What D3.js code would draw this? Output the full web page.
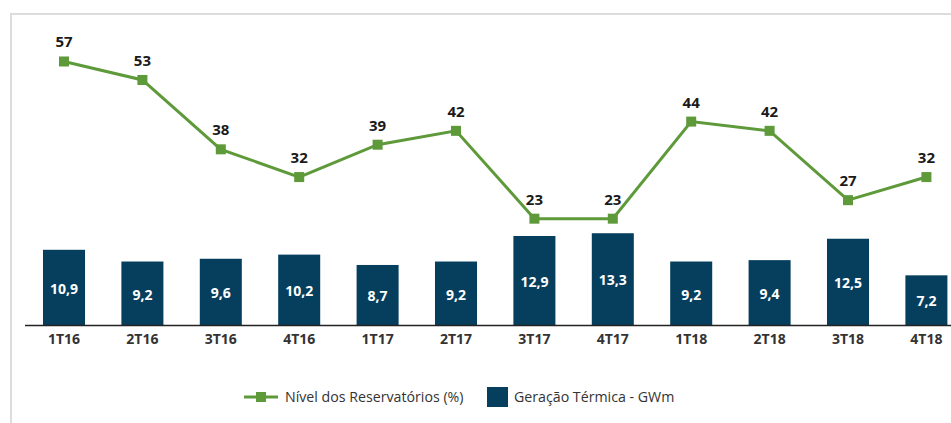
<!DOCTYPE html>
<html>
<head>
<meta charset="utf-8">
<script src="https://cdn.jsdelivr.net/npm/d3@7"></script>
<style>
  body { margin: 0; background: #fff; }
  #chart { width: 951px; height: 423px; }
  text { font-family: "Open Sans", "Noto Sans", sans-serif; }
</style>
</head>
<body>
<div id="chart"></div>
<script>
const quarters = ["1T16", "2T16", "3T16", "4T16", "1T17", "2T17", "3T17", "4T17", "1T18", "2T18", "3T18", "4T18"];
const reservoirLevel = [57, 53, 38, 32, 39, 42, 23, 23, 44, 42, 27, 32];
const thermalGen = [10.9, 9.2, 9.6, 10.2, 8.7, 9.2, 12.9, 13.3, 9.2, 9.4, 12.5, 7.2];
const legendLabels = ["Nível dos Reservatórios (%)", "Geração Térmica - GWm"];

const green = "#5e9a3a";
const navy = "#063f5e";

function createChart() {
    const width = 951, height = 423;
    const baseY = 325;

    const svg = d3.select("#chart")
        .append("svg")
        .attr("width", width)
        .attr("height", height);

    // light frame
    svg.append("path")
        .attr("d", `M11,${height} L11,14 L${width},14`)
        .attr("fill", "none")
        .attr("stroke", "#dcdcdc")
        .attr("stroke-width", 2);

    const x = d3.scaleBand()
        .domain(quarters)
        .range([24.8, 965.6])
        .paddingInner(0.464)
        .paddingOuter(0.232);

    const yBar = d3.scaleLinear()
        .domain([0, 47.1])
        .range([baseY, 0]);

    const yLine = d3.scaleLinear()
        .domain([0, 70.3])
        .range([baseY, 0]);

    // bars
    svg.append("g")
        .selectAll("rect")
        .data(thermalGen)
        .join("rect")
        .attr("x", (d, i) => x(quarters[i]))
        .attr("y", d => yBar(d))
        .attr("width", x.bandwidth())
        .attr("height", d => baseY - yBar(d))
        .attr("fill", navy);

    // bar labels
    svg.append("g")
        .selectAll("text")
        .data(thermalGen)
        .join("text")
        .attr("x", (d, i) => x(quarters[i]) + x.bandwidth() / 2)
        .attr("y", d => (yBar(d) + baseY) / 2 + 1)
        .attr("dy", "0.38em")
        .attr("text-anchor", "middle")
        .attr("fill", "#fff")
        .attr("font-size", 14)
        .attr("font-weight", "bold")
        .text(d => d3.format(".1f")(d).replace(".", ","));

    // x axis
    const axis = svg.append("g")
        .attr("transform", `translate(0,${baseY})`)
        .call(d3.axisBottom(x).tickSize(0).tickPadding(9));
    axis.select(".domain")
        .attr("d", `M25,0.5H${width}`)
        .attr("stroke", "#222")
        .attr("stroke-width", 1.5);
    axis.selectAll("text")
        .attr("font-family", "'Open Sans', sans-serif")
        .attr("font-size", 14)
        .attr("font-weight", "bold")
        .attr("fill", "#333");

    // reservoir line
    const line = d3.line()
        .x((d, i) => x(quarters[i]) + x.bandwidth() / 2)
        .y(d => yLine(d));

    svg.append("path")
        .datum(reservoirLevel)
        .attr("fill", "none")
        .attr("stroke", green)
        .attr("stroke-width", 3)
        .attr("d", line);

    svg.append("g")
        .selectAll("rect")
        .data(reservoirLevel)
        .join("rect")
        .attr("x", (d, i) => x(quarters[i]) + x.bandwidth() / 2 - 5)
        .attr("y", d => yLine(d) - 5)
        .attr("width", 10)
        .attr("height", 10)
        .attr("fill", green);

    svg.append("g")
        .selectAll("text")
        .data(reservoirLevel)
        .join("text")
        .attr("x", (d, i) => x(quarters[i]) + x.bandwidth() / 2)
        .attr("y", d => yLine(d) - 14)
        .attr("text-anchor", "middle")
        .attr("fill", "#1a1a1a")
        .attr("font-size", 15)
        .attr("font-weight", "bold")
        .text(d => d);

    // legend
    const lg = svg.append("g");
    lg.append("line")
        .attr("x1", 244).attr("x2", 278)
        .attr("y1", 397).attr("y2", 397)
        .attr("stroke", green)
        .attr("stroke-width", 3);
    lg.append("rect")
        .attr("x", 256).attr("y", 392)
        .attr("width", 10).attr("height", 10)
        .attr("fill", green);
    lg.append("text")
        .attr("x", 285).attr("y", 397)
        .attr("dy", "0.35em")
        .attr("font-size", 14.2)
        .attr("fill", "#333")
        .text(legendLabels[0]);
    lg.append("rect")
        .attr("x", 487).attr("y", 387)
        .attr("width", 21).attr("height", 20)
        .attr("fill", navy);
    lg.append("text")
        .attr("x", 514).attr("y", 397)
        .attr("dy", "0.35em")
        .attr("font-size", 14.2)
        .attr("fill", "#333")
        .text(legendLabels[1]);
}

createChart();
</script>
</body>
</html>
